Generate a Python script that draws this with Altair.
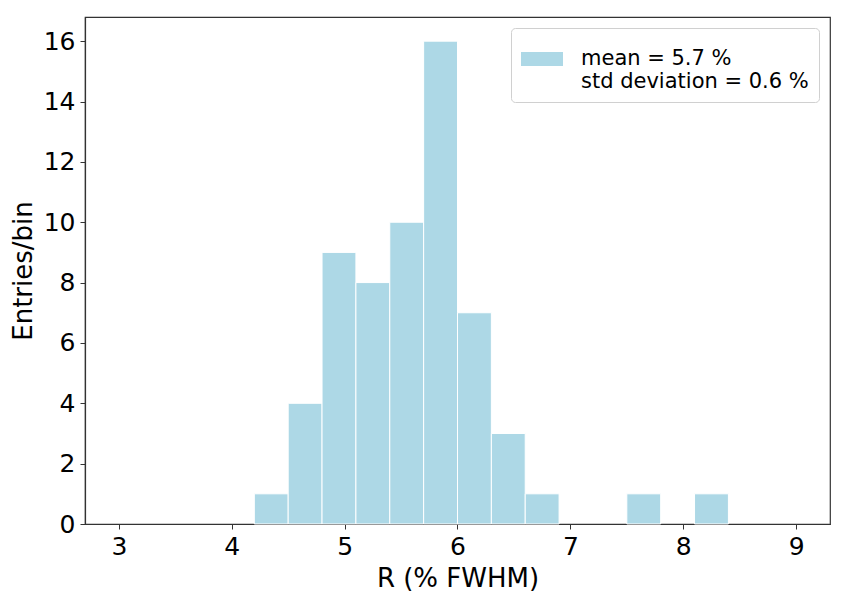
import altair as alt
import pandas as pd

bin_start = [3.0, 3.3, 3.6, 3.9, 4.2, 4.5, 4.8, 5.1, 5.4, 5.7,
             6.0, 6.3, 6.6, 6.9, 7.2, 7.5, 7.8, 8.1, 8.4, 8.7]
bin_end = [3.3, 3.6, 3.9, 4.2, 4.5, 4.8, 5.1, 5.4, 5.7, 6.0,
           6.3, 6.6, 6.9, 7.2, 7.5, 7.8, 8.1, 8.4, 8.7, 9.0]
counts = [0, 0, 0, 0, 1, 4, 9, 8, 10, 16,
          7, 3, 1, 0, 0, 1, 0, 1, 0, 0]
legend_label = "mean = 5.7 %|std deviation = 0.6 %"

df = pd.DataFrame({"start": bin_start, "end": bin_end, "count": counts})
df["label"] = legend_label
df = df[df["count"] > 0]

FONT = "DejaVu Sans"

chart = alt.Chart(df).mark_bar(stroke="white", strokeWidth=1).encode(
    x=alt.X("start:Q",
            scale=alt.Scale(domain=[2.7, 9.3], nice=False, zero=False),
            axis=alt.Axis(values=[3, 4, 5, 6, 7, 8, 9], format="d",
                          title="R (% FWHM)", grid=False)),
    x2="end:Q",
    y=alt.Y("count:Q",
            scale=alt.Scale(domain=[0, 16.8], nice=False),
            axis=alt.Axis(values=[0, 2, 4, 6, 8, 10, 12, 14, 16],
                          title="Entries/bin", grid=False)),
    y2=alt.datum(0),
    color=alt.Color("label:N",
                    scale=alt.Scale(range=["#ADD8E6"]),
                    legend=alt.Legend(
                        title=None,
                        orient="none",
                        legendX=426,
                        legendY=11,
                        labelExpr="split(datum.label, '|')",
                        labelFont=FONT,
                        labelFontSize=21,
                        labelColor="black",
                        labelLimit=400,
                        labelOffset=18,
                        symbolType="M-1,-0.33L1,-0.33L1,0.33L-1,0.33Z",
                        symbolSize=1764,
                        symbolStrokeWidth=0,
                        symbolOpacity=1,
                        padding=10,
                        strokeColor="#d0d0d0",
                        fillColor="white",
                        cornerRadius=4,
                    )),
).properties(
    width=745,
    height=507,
    autosize=alt.AutoSizeParams(type="none"),
    padding={"left": 77, "top": 9, "right": 10, "bottom": 80},
).configure_view(
    stroke="#333333", strokeWidth=1.2
).configure_axis(
    labelFont=FONT, titleFont=FONT,
    labelFontSize=25, titleFontSize=26,
    labelColor="black", titleColor="black",
    titleFontWeight="normal",
    domainColor="#333333", domainWidth=1.2,
    tickColor="#333333", tickSize=5, tickWidth=1,
    labelPadding=5,
).configure_axisX(
    titlePadding=6,
).configure_axisY(
    titlePadding=7,
).configure_mark(
    opacity=1
)

chart.save("out.html", embed_options={"renderer": "svg", "actions": False})
